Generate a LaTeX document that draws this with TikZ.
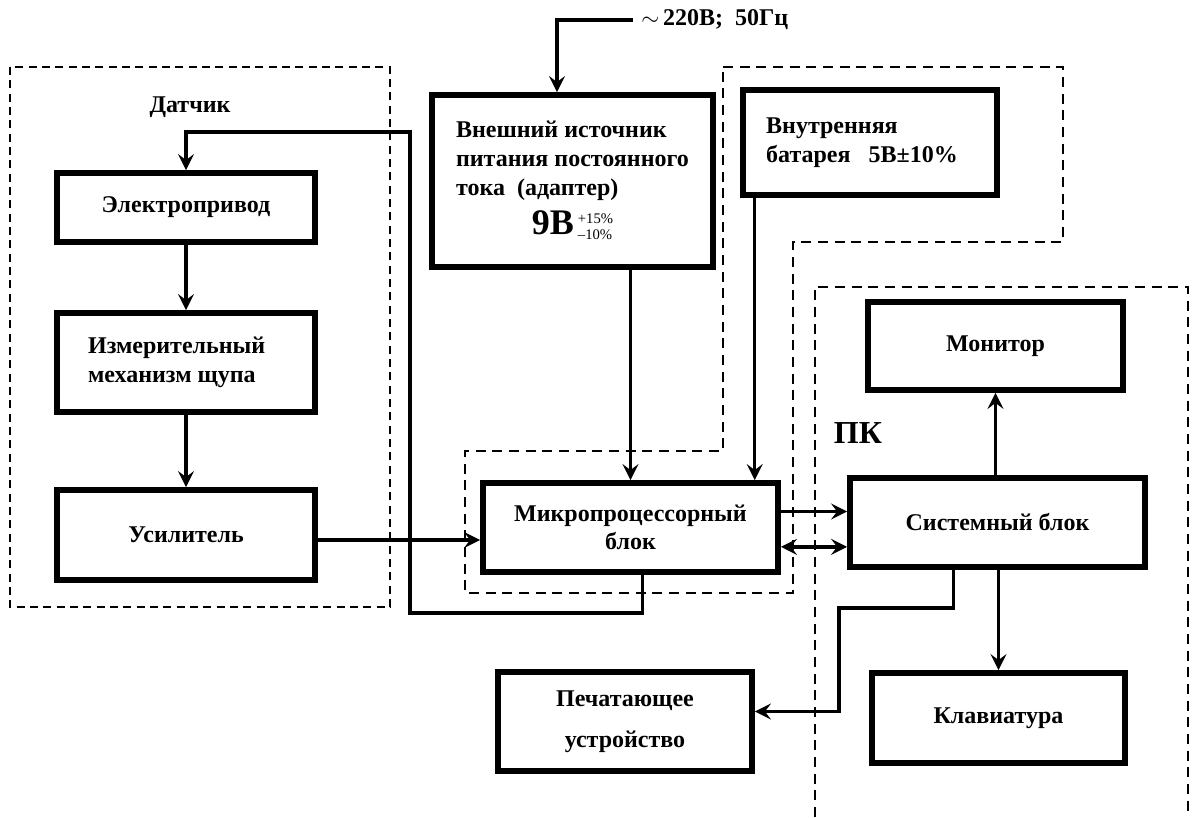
\documentclass[tikz,border=0pt]{standalone}
\usepackage{fontspec}
\setmainfont{Liberation Serif}
\usetikzlibrary{arrows.meta}

\begin{document}
\begin{tikzpicture}[x=0.75pt,y=-0.75pt,>={Stealth[length=12pt,width=12pt,inset=4.5pt]},
    blok/.style={draw,line width=4.4pt,inner sep=0pt,align=center,font=\bfseries\fontsize{18}{21.5}\selectfont},
    nadpis/.style={font=\bfseries\fontsize{18}{21.5}\selectfont},
    strelka/.style={line width=2.6pt,->},
    ramka/.style={line width=1.5pt,dash pattern=on 7.5pt off 5pt}]
\useasboundingbox (0,0) rectangle (1198,817);

% пунктирные рамки
\draw[ramka,line width=2.1pt,dash pattern=on 6pt off 4pt] (10,67) rectangle (390,607);
\draw[ramka] (723,67) -- (1063,67) -- (1063,242) -- (793,242) -- (793,593) -- (465,593) -- (465,451) -- (723,451) -- cycle;
\draw[ramka] (815,817) -- (815,287) -- (1188,287) -- (1188,817);

% блоки
\node[blok,minimum width=193.5pt,minimum height=51.75pt] (privod) at (186,207.5) {Электропривод};
\node[blok,minimum width=193.5pt,minimum height=74.25pt,align=left] (mehanizm) at (186,362.5) {Измерительный\hspace*{14pt}\\механизм щупа};
\node[blok,minimum width=193.5pt,minimum height=67.5pt] (usil) at (186,535) {Усилитель};
\node[blok,minimum width=210.75pt,minimum height=129pt] (adapter) at (572.5,181)
    {\begin{tabular}{@{}l@{}}Внешний источник\\питания постоянного\\тока \ (адаптер)\\[5pt]
     \multicolumn{1}{@{}c@{}}{{\fontsize{27}{27}\selectfont 9В}\,$\vcenter{\hbox{\normalfont\fontsize{11}{12}\selectfont\begin{tabular}{@{}l@{}}+15\%\\–10\%\end{tabular}}}$}\end{tabular}};
\node[blok,minimum width=190.5pt,minimum height=78.75pt,align=left] (batareya) at (870,142.5) {Внутренняя\\батарея \ \ 5В±10\%\hspace*{12pt}};
\node[blok,minimum width=221.25pt,minimum height=66.75pt] (mp) at (630.5,527.5) {Микропроцессорный\\блок};
\node[blok,minimum width=221.25pt,minimum height=66.75pt] (sistem) at (997.5,522.5) {Системный блок};
\node[blok,minimum width=191.25pt,minimum height=66pt] (monitor) at (995.5,346) {Монитор};
\node[blok,minimum width=189.75pt,minimum height=67.5pt] (klav) at (998.5,718) {Клавиатура};
\node[blok,minimum width=190.5pt,minimum height=74.25pt] (printer) at (625,721.5) {Печатающее\\[9pt]устройство};

% надписи
\node[nadpis] (datchik) at (190,107) {Датчик};
\node[font=\bfseries\fontsize{24}{28}\selectfont] (pk) at (858,433) {ПК};
\node[nadpis,anchor=west,inner sep=0pt] (set) at (641,20) {$\sim$\,220В; \ 50Гц};

% связи
\coordinate (vvod) at (557,20);
\draw[strelka] ([xshift=-6pt]set.west) -- (vvod) -- (vvod |- adapter.north);
\draw[strelka] (adapter.south -| mp.north) -- (mp.north);
\coordinate (batvyh) at ([xshift=11pt]batareya.south west);
\draw[strelka] (batvyh) -- (batvyh |- mp.north);

\draw[strelka] (privod) -- (mehanizm);
\draw[strelka] (mehanizm) -- (usil);
\coordinate (usvyh) at ([yshift=-3.75pt]usil.east);
\draw[strelka] (usvyh) -- (usvyh -| mp.west);

\coordinate (mpvyh) at ([xshift=9pt]mp.south);
\coordinate (obr1) at (410,613);
\coordinate (obr2) at (410,132);
\draw[strelka] (mpvyh) |- (obr1) -- (obr2) -| (privod.north);

\coordinate (mp1) at ([yshift=12pt]mp.east);
\coordinate (mp2) at ([yshift=-14.5pt]mp.east);
\draw[strelka] (mp1) -- (mp1 -| sistem.west);
\draw[strelka,<->] (mp2) -- (mp2 -| sistem.west);

\draw[strelka] (monitor.south |- sistem.north) -- (monitor.south);
\draw[strelka] (klav.north |- sistem.south) -- (klav.north);

\coordinate (sysvyh) at ([xshift=-33pt]sistem.south);
\coordinate (pech1) at (839,608);
\coordinate (pechvh) at ([yshift=7.5pt]printer.east);
\draw[strelka] (sysvyh) |- (pech1) |- (pechvh);
\end{tikzpicture}
\end{document}
